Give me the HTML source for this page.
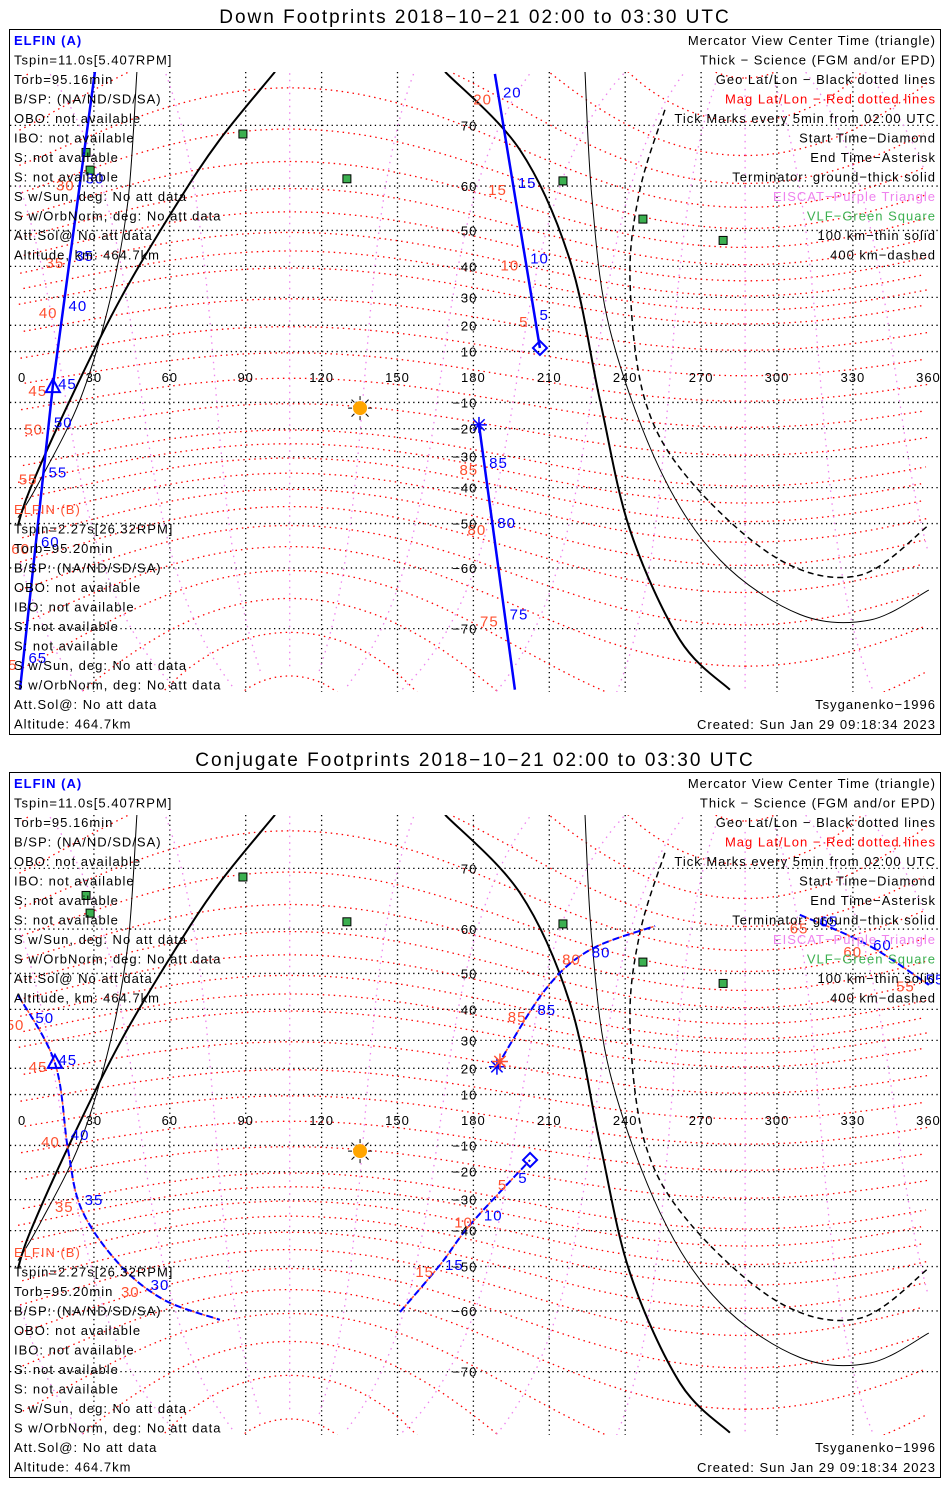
<!DOCTYPE html>
<html><head><meta charset="utf-8">
<style>
html,body{margin:0;padding:0;background:#fff;width:950px;height:1500px;overflow:hidden}
svg{display:block}
text{font-family:"Liberation Sans",sans-serif;letter-spacing:1px}
</style></head>
<body>
<svg id="chart" width="950" height="1500" viewBox="0 0 950 1500" xmlns="http://www.w3.org/2000/svg">
<rect x="0" y="0" width="950" height="1500" fill="#fff"/>
</svg>
<script>
// ---------- DATA ----------
const lonTicks = [0,30,60,90,120,150,180,210,240,270,300,330,360];
const latTicks = [70,60,50,40,30,20,10,-10,-20,-30,-40,-50,-60,-70];
const magLats = [-85,-80,-75,-70,-65,-60,-55,-50,-45,-40,-35,-30,-20,-10,0,10,20,30,35,40,45,50,55,60,65,70,75,80,85];
const magLons = [0,30,60,90,120,150,180,210,240,270,300,330];
// terminator curves (lon, lat)
const termThickLeftLon = [101.6,79.8,62,40.3,20.6,4.7,0];
const termThickLeftLat = [76.1,68,55.6,29.2,-9,-40.6,-50.4];
const termThinLeftLon = [47,43.5,36.4,24.5,8.7,0];
const termThinLeftLat = [76.1,57.2,29.2,-9,-37.8,-48.5];
const termThickRightLon = [168.8,198.4,218.2,230,241.9,261.7,281.4];
const termThickRightLat = [76.1,66.4,41.8,-9,-51.6,-71.5,-76.8];
const termThinRightLon = [224.1,226.9,234,253.8,277.5,309.1,336.8,360];
const termThinRightLat = [76.1,57.2,18.2,-34.4,-58.4,-68,-68.8,-64.1];
const termDashLon = [255.7,245.8,241.9,247.8,265.6,301.2,332.8,360];
const termDashLat = [72,59.2,35.8,-9,-37.8,-58.4,-61.4,-50.4];
// VLF stations
const vlfLon = [88.9,26.9,28.5,130,215.4,247,278.7];
const vlfLat = [68.8,66,63,61.4,61,52.8,47.4];
const sunLon = 135.2, sunLat = -12.2;
// Down footprints
const downALon = [30.4,13.8,0.8];
const downALat = [76.1,-3.3,-76.8];
const downATickLabels = ["30","35","40","45","50","55","60","65"];
const downATickLats = [61.5,43,27,-2.8,-17.6,-35.2,-54.5,-73.6];
const downBLon = [188.5,206.3];
const downBLat = [75.9,11.4];
const downBTickLabels = ["20","15","10","5"];
const downBTickLats = [74,60.6,42.4,23.8];
const downB2Lon = [182.2,196.4];
const downB2Lat = [-18.6,-76.8];
const downB2TickLabels = ["85","80","75"];
const downB2TickLats = [-32.2,-49.8,-68];
// Conjugate footprints
const conjALon = [0,14.6,19.8,25.3,40.3,58,79.8];
const conjALat = [44.2,22,-11.8,-33.6,-49.6,-57.8,-61.7];
const conjATickLabels = ["50","45","40","35","30"];
const conjATickLats = [37.4,23,-5.9,-30.2,-54.5];
const conjA2Lon = [309,336,360];
const conjA2Lat = [62.7,56.7,47];
const conjA2TickLabels = ["65","60","55"];
const conjA2TickLats = [61.5,56.7,48.4];
const conjBLon = [151,166.8,178.7,202.4];
const conjBLat = [-60.2,-49.6,-38.2,-15.6];
const conjBTickLabels = ["15","10","5"];
const conjBTickLats = [-49.6,-35.2,-22.4];
const conjB2Lon = [189.3,208.3,226,251.8];
const conjB2Lat = [20.6,45.6,55.6,60.6];
const conjB2TickLabels = ["85","80"];
const conjB2TickLats = [39.8,55];

// ---------- RENDER ----------
const NS = "http://www.w3.org/2000/svg";
const svg = document.getElementById('chart');
const X0 = 18, KX = 2.53, R = 145;
const PL = 10, PR = 940;
function mk(tag, attrs, parent){
  const e = document.createElementNS(NS, tag);
  for (const k in attrs) e.setAttribute(k, attrs[k]);
  (parent||svg).appendChild(e);
  return e;
}
function txt(parent, x, y, s, opts){
  const t = mk('text', {x:x, y:y, fill:(opts&&opts.fill)||'#000', 'text-anchor':(opts&&opts.anchor)||'start'}, parent);
  t.style.fontSize = ((opts&&opts.size)||13)+'px';
  if (opts && opts.ls !== undefined) t.style.letterSpacing = opts.ls+'px';
  t.textContent = s;
  return t;
}
function makeAxes(oy){
  return {
    x: lon => X0 + lon*KX,
    y: lat => { const l = Math.max(-85, Math.min(85, lat)); return oy + 377 - R*Math.log(Math.tan(Math.PI/4 + l*Math.PI/360)); }
  };
}
function polyPts(ax, lons, lats){
  return lons.map((lo,i)=> ax.x(lo).toFixed(1)+','+ax.y(lats[i]).toFixed(1)).join(' ');
}
function smoothPath(ax, lons, lats){
  const P = lons.map((lo,i)=>[ax.x(lo), ax.y(lats[i])]);
  let d = 'M'+P[0][0].toFixed(1)+','+P[0][1].toFixed(1);
  for (let i=0;i<P.length-1;i++){
    const p0 = P[i-1]||P[i], p1 = P[i], p2 = P[i+1], p3 = P[i+2]||P[i+1];
    const c1 = [p1[0]+(p2[0]-p0[0])/6, p1[1]+(p2[1]-p0[1])/6];
    const c2 = [p2[0]-(p3[0]-p1[0])/6, p2[1]-(p3[1]-p1[1])/6];
    d += ' C'+c1.map(v=>v.toFixed(1)).join(',')+' '+c2.map(v=>v.toFixed(1)).join(',')+' '+p2[0].toFixed(1)+','+p2[1].toFixed(1);
  }
  return d;
}
function xAtLat(ax, lons, lats, lat){
  const yy = ax.y(lat);
  for (let i=0;i<lons.length-1;i++){
    const y1 = ax.y(lats[i]), y2 = ax.y(lats[i+1]);
    if ((yy-y1)*(yy-y2) <= 0 && y1!==y2){
      const f = (yy-y1)/(y2-y1);
      return ax.x(lons[i]) + f*(ax.x(lons[i+1])-ax.x(lons[i]));
    }
  }
  return ax.x(lons[lons.length-1]);
}
function magToGeo(mlat, mlon){
  const d = Math.PI/180, th = 9.5*d, ph = -72.6*d;
  const a = mlat*d, b = mlon*d;
  let x = Math.cos(a)*Math.cos(b), y = Math.cos(a)*Math.sin(b), z = Math.sin(a);
  const x1 = x*Math.cos(th) + z*Math.sin(th), z1 = -x*Math.sin(th) + z*Math.cos(th);
  const x2 = x1*Math.cos(ph) - y*Math.sin(ph), y2 = x1*Math.sin(ph) + y*Math.cos(ph);
  let lon = Math.atan2(y2, x2)/d; if (lon<0) lon += 360;
  return [lon, Math.asin(z1)/d];
}
function drawMagCurve(g, ax, pts, cls){
  let seg = [];
  const flush = () => {
    if (seg.length>1){
      const p = mk('polyline', {points:seg.join(' '), fill:'none', stroke:cls.stroke, 'stroke-width':1.3, 'stroke-dasharray':cls.dash}, g);
      
      
    }
    seg = [];
  };
  let prev = null;
  pts.forEach(([lo,la])=>{
    if (prev!==null && Math.abs(lo-prev)>180) flush();
    seg.push(ax.x(lo).toFixed(1)+','+ax.y(la).toFixed(1));
    prev = lo;
  });
  flush();
}
function drawTrack(g, ax, lons, lats, labels, tickLats, style, name){
  if (style==='solid'){
    const p = mk('polyline', {points:polyPts(ax,lons,lats), fill:'none', stroke:'#0000ff', 'stroke-width':2.5}, g);
    
    
  } else {
    const p = mk('path', {d:smoothPath(ax,lons,lats), fill:'none', stroke:'#0000ff', 'stroke-width':2, 'stroke-dasharray':'7,4'}, g);
    
    
    const p2 = mk('path', {d:smoothPath(ax,lons,lats), fill:'none', stroke:'#ff5030', 'stroke-width':1.5, 'stroke-dasharray':'3,8', 'stroke-dashoffset':'-7'}, g);
    
    
  }
  labels.forEach((lab,i)=>{
    const x = xAtLat(ax, lons, lats, tickLats[i]), y = ax.y(tickLats[i]);
    const tb = txt(g, x+5, y+5, lab, {fill:'#0000ff', size:15});
    
    
    const tr = txt(g, x-6, y+12, lab, {fill:'#ff5030', anchor:'end', size:15});
    
    
  });
}
function drawPanel(oy, title, tracks, markers, bBlock){
  const ax = makeAxes(oy);
  const pg = mk('g', {});
  
  
  const tt = txt(pg, 475, oy+23, title, {anchor:'middle', size:19, ls:2});
  
  
  const frame = mk('rect', {x:9.5, y:oy+29.5, width:931, height:705, fill:'none', stroke:'#000', 'stroke-width':1}, pg);
  
  
  const cid = 'clip'+oy;
  const cp = mk('clipPath', {id:cid}, pg);
  mk('rect', {x:PL, y:oy+72, width:PR-PL, height:620}, cp);
  const g = mk('g', {'clip-path':'url(#'+cid+')'}, pg);
  
  
  lonTicks.forEach(lo=>{
    if (lo===0||lo===360) return;
    const l = mk('line', {x1:ax.x(lo), x2:ax.x(lo), y1:oy+72, y2:oy+692, stroke:'#000', 'stroke-width':1.3, 'stroke-dasharray':'1.3,3.5'}, g);
    
    
  });
  latTicks.forEach(la=>{
    const l = mk('line', {x1:PL, x2:PR, y1:ax.y(la), y2:ax.y(la), stroke:'#000', 'stroke-width':1.3, 'stroke-dasharray':'1.3,3.5'}, g);
    
    
  });
  magLats.forEach(ml=>{
    const pts = []; for (let m=0;m<=360;m+=3) pts.push(magToGeo(ml, m));
    drawMagCurve(g, ax, pts, {stroke:'#ff0000', dash:'1.5,4', name:'mag-lat-line'});
  });
  magLons.forEach(mn=>{
    const pts = []; for (let m=-84;m<=84;m+=2) pts.push(magToGeo(m, mn));
    drawMagCurve(g, ax, pts, {stroke:'#ee82ee', dash:'1.5,5', name:'mag-lon-line'});
  });
  [[termThickLeftLon,termThickLeftLat,2,null,'terminator-ground-left'],
   [termThinLeftLon,termThinLeftLat,1,null,'terminator-100km-left'],
   [termThickRightLon,termThickRightLat,2,null,'terminator-ground-right'],
   [termThinRightLon,termThinRightLat,1,null,'terminator-100km-right'],
   [termDashLon,termDashLat,1.5,'6,4','terminator-400km']].forEach(([lo,la,w,d,n])=>{
    const p = mk('path', {d:smoothPath(ax,lo,la), fill:'none', stroke:'#000', 'stroke-width':w}, g);
    if (d) p.setAttribute('stroke-dasharray', d);
    
    
  });
  vlfLon.forEach((lo,i)=>{
    const r = mk('rect', {x:ax.x(lo)-4, y:ax.y(vlfLat[i])-4, width:8, height:8, fill:'#3cb050', stroke:'#000', 'stroke-width':1}, g);
    
    
  });
  const sx = ax.x(sunLon), sy = ax.y(sunLat);
  const sg = mk('g', {}, g);
  
  
  for (let a=0;a<360;a+=45){ const r=a*Math.PI/180; mk('line',{x1:sx+8*Math.cos(r),y1:sy+8*Math.sin(r),x2:sx+12*Math.cos(r),y2:sy+12*Math.sin(r),stroke:'#000','stroke-width':1},sg); }
  mk('circle', {cx:sx, cy:sy, r:7, fill:'#ffa500'}, sg);
  lonTicks.forEach(lo=>{
    const t = txt(pg, ax.x(lo), oy+382, String(lo), {anchor:lo===0?'start':(lo===360?'end':'middle'), size:13});
    if (lo===360) t.setAttribute('x', ax.x(lo)+12);
    
    
  });
  latTicks.forEach(la=>{
    const t = txt(pg, ax.x(180)+4, ax.y(la)+5, String(la).replace('-','\u2212'), {anchor:'end', size:13});
    
    
  });
  tracks.forEach(t=>drawTrack(g, ax, t[0], t[1], t[2], t[3], t[4], t[5]));
  markers.forEach(m=>{
    const x = ax.x(m.lon), y = ax.y(m.lat);
    let e;
    if (m.type==='tri') e = mk('polygon', {points:`${x},${y-8} ${x-7},${y+5} ${x+7},${y+5}`, fill:'none', stroke:'#0000ff', 'stroke-width':2}, g);
    else if (m.type==='dia') e = mk('polygon', {points:`${x},${y-7} ${x+7},${y} ${x},${y+7} ${x-7},${y}`, fill:'none', stroke:'#0000ff', 'stroke-width':2}, g);
    else { e = mk('g', {}, g); [0,45,90,135].forEach(a=>{const r=a*Math.PI/180; mk('line',{x1:x-8*Math.cos(r),y1:y-8*Math.sin(r),x2:x+8*Math.cos(r),y2:y+8*Math.sin(r),stroke:m.color||'#0000ff','stroke-width':1.5},e);}); }
    
    
  });
  const leftA = ['ELFIN (A)','Tspin=11.0s[5.407RPM]','Torb=95.16min','B/SP: (NA/ND/SD/SA)','OBO: not available','IBO: not available','S: not available','S: not available','S w/Sun, deg: No att data','S w/OrbNorm, deg: No att data','Att.Sol@ No att data','Altitude, km: 464.7km'];
  leftA.forEach((s,i)=>{
    const t = txt(pg, 14, oy+45+i*19.5, s, {fill:i===0?'#0000ff':'#000', size:13});
    if (i===0) t.setAttribute('font-weight','bold');
    
    
  });
  bBlock.forEach((s,i)=>{
    const t = txt(pg, 14, oy+514+i*19.5, s, {fill:i===0?'#ff5030':'#000', size:13});
    
    
  });
  const right = [['Mercator View Center Time (triangle)','#000'],['Thick \u2212 Science (FGM and/or EPD)','#000'],['Geo Lat/Lon \u2212 Black dotted lines','#000'],['Mag Lat/Lon \u2212 Red dotted lines','#ff0000'],['Tick Marks every 5min from 02:00 UTC','#000'],['Start Time\u2212Diamond','#000'],['End Time\u2212Asterisk','#000'],['Terminator: ground\u2212thick solid','#000'],['EISCAT\u2212Purple Triangle','#ee82ee'],['VLF\u2212Green Square','#3cb050'],['100 km\u2212thin solid','#000'],['400 km\u2212dashed','#000']];
  right.forEach(([s,c],i)=>{
    const t = txt(pg, 936, oy+45+i*19.5, s, {fill:c, anchor:'end', size:13});
    
    
  });
  const t1 = txt(pg, 936, oy+709, 'Tsyganenko\u22121996', {anchor:'end'});
  
  
  const t2 = txt(pg, 936, oy+729, 'Created: Sun Jan 29 09:18:34 2023', {anchor:'end'});
  
  
}
const bBlock = ['ELFIN (B)','Tspin=2.27s[26.32RPM]','Torb=95.20min','B/SP: (NA/ND/SD/SA)','OBO: not available','IBO: not available','S: not available','S: not available','S w/Sun, deg: No att data','S w/OrbNorm, deg: No att data','Att.Sol@: No att data','Altitude: 464.7km'];
drawPanel(0, 'Down Footprints 2018\u221210\u221221 02:00 to 03:30 UTC', [
  [downALon, downALat, downATickLabels, downATickLats, 'solid', 'elfin-a-down-track'],
  [downBLon, downBLat, downBTickLabels, downBTickLats, 'solid', 'elfin-b-down-track'],
  [downB2Lon, downB2Lat, downB2TickLabels, downB2TickLats, 'solid', 'elfin-b-down-track-south']
], [
  {type:'tri', lon:13.8, lat:-4, name:'view-center-triangle'},
  {type:'dia', lon:206.3, lat:11.4, name:'start-diamond'},
  {type:'ast', lon:182.2, lat:-18.6, name:'end-asterisk'}
], bBlock);
drawPanel(743, 'Conjugate Footprints 2018\u221210\u221221 02:00 to 03:30 UTC', [
  [conjALon, conjALat, conjATickLabels, conjATickLats, 'dash', 'elfin-a-conj-track'],
  [conjA2Lon, conjA2Lat, conjA2TickLabels, conjA2TickLats, 'dash', 'elfin-a-conj-track-east'],
  [conjBLon, conjBLat, conjBTickLabels, conjBTickLats, 'dash', 'elfin-b-conj-track'],
  [conjB2Lon, conjB2Lat, conjB2TickLabels, conjB2TickLats, 'dash', 'elfin-b-conj-track-north']
], [
  {type:'tri', lon:14.6, lat:22, name:'view-center-triangle'},
  {type:'dia', lon:202.4, lat:-15.6, name:'start-diamond'},
  {type:'ast', lon:189.3, lat:20.6, name:'end-asterisk'},
  {type:'ast', lon:190.5, lat:22.5, color:'#ff5030', name:'end-asterisk-mag'}
], bBlock);
</script>
</body></html>
